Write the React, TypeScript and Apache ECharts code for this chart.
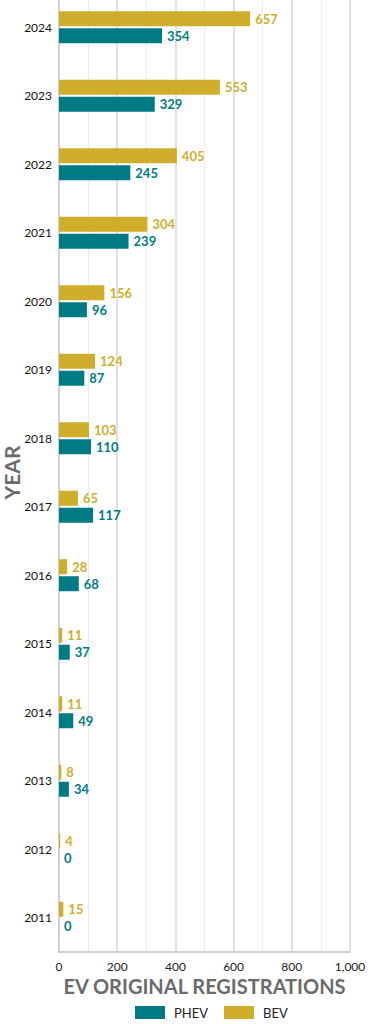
import React, { useEffect, useRef } from "react";
import * as echarts from "echarts";

const years = ["2024", "2023", "2022", "2021", "2020", "2019", "2018", "2017", "2016", "2015", "2014", "2013", "2012", "2011"];
const bev = [657, 553, 405, 304, 156, 124, 103, 65, 28, 11, 11, 8, 4, 15];
const phev = [354, 329, 245, 239, 96, 87, 110, 117, 68, 37, 49, 34, 0, 0];

const GOLD = "#CFAE2C";
const TEAL = "#007B85";
const FONT = "Lato, 'Open Sans', sans-serif";

export default function App() {
  const ref = useRef<HTMLDivElement>(null);
  useEffect(() => {
    if (!ref.current) return;
    const chart = echarts.init(ref.current, undefined, { renderer: "svg" });
    chart.setOption({
      animation: false,
      textStyle: { fontFamily: FONT },
      grid: { left: 59, right: 20, top: -7, bottom: 72, containLabel: false, outerBoundsMode: "none" },
      legend: {
        data: ["PHEV", "BEV"],
        top: 1006,
        left: 135,
        padding: 0,
        itemWidth: 30,
        itemHeight: 13,
        itemGap: 16,
        icon: "rect",
        textStyle: { fontSize: 13, color: "#222", fontFamily: FONT, padding: [0, 0, 0, 4] },
      },
      xAxis: {
        type: "value",
        min: 0,
        max: 1000,
        interval: 200,
        name: "EV ORIGINAL REGISTRATIONS",
        nameLocation: "middle",
        nameGap: 24,
        nameMoveOverlap: false,
        nameTextStyle: { fontSize: 20, fontWeight: "bold", color: "#6b6b6b", fontFamily: FONT },
        axisLine: { show: true, lineStyle: { color: "#d0d0d0", width: 2 } },
        axisTick: { show: false },
        axisLabel: {
          fontSize: 12,
          color: "#222",
          margin: 8,
          formatter: (v: number) => v.toLocaleString("en-US"),
        },
        splitLine: { show: true, lineStyle: { color: "#d6d6d6", width: 1.5 } },
        minorTick: { show: false, splitNumber: 2 },
        minorSplitLine: { show: true, lineStyle: { color: "#ececec", width: 1 } },
      },
      yAxis: {
        type: "category",
        data: years,
        inverse: true,
        name: "YEAR",
        nameLocation: "middle",
        nameGap: 38,
        nameMoveOverlap: false,
        nameRotate: 90,
        nameTextStyle: { fontSize: 21, lineHeight: 20, fontWeight: "bold", color: "#6b6b6b", fontFamily: FONT },
        axisLine: { show: true, lineStyle: { color: "#d0d0d0", width: 2 } },
        axisTick: { show: false },
        axisLabel: { fontSize: 12, color: "#111", margin: 7 },
        splitLine: { show: false },
      },
      series: [
        {
          name: "BEV",
          type: "bar",
          data: bev,
          barWidth: 15,
          barGap: "13%",
          itemStyle: { color: GOLD },
          label: {
            show: true,
            position: "right",
            distance: 5,
            color: GOLD,
            fontWeight: "bold",
            fontSize: 13,
            fontFamily: FONT,
          },
        },
        {
          name: "PHEV",
          type: "bar",
          data: phev,
          barWidth: 15,
          barGap: "13%",
          itemStyle: { color: TEAL },
          label: {
            show: true,
            position: "right",
            distance: 5,
            color: TEAL,
            fontWeight: "bold",
            fontSize: 13,
            fontFamily: FONT,
          },
        },
      ],
    });
    return () => chart.dispose();
  }, []);
  return <div ref={ref} style={{ width: 370, height: 1024, position: "absolute", left: 0, top: 0 }} />;
}
